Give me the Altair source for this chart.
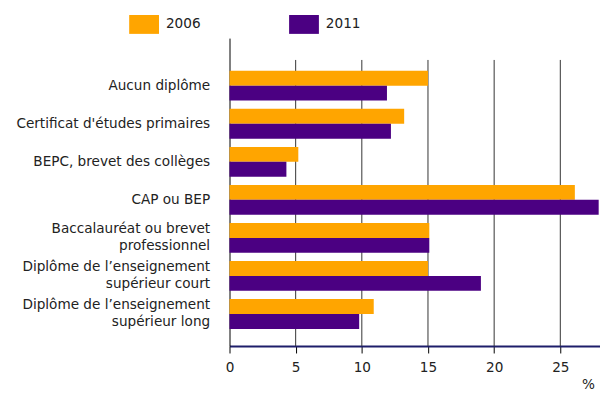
import altair as alt
import pandas as pd

categories = [
    "Aucun diplôme",
    "Certificat d'études primaires",
    "BEPC, brevet des collèges",
    "CAP ou BEP",
    "Baccalauréat ou brevet|professionnel",
    "Diplôme de l’enseignement|supérieur court",
    "Diplôme de l’enseignement|supérieur long",
]
v2006 = [15.0, 13.2, 5.2, 26.1, 15.1, 15.0, 10.9]
v2011 = [11.9, 12.2, 4.3, 27.9, 15.1, 19.0, 9.8]
years = ["2006", "2011"]
grid_ticks = [5, 10, 15, 20, 25]
axis_ticks = [0, 5, 10, 15, 20, 25]

rows = []
for c, a, b in zip(categories, v2006, v2011):
    rows.append({"cat": c, "year": years[0], "value": a})
    rows.append({"cat": c, "year": years[1], "value": b})
df = pd.DataFrame(rows)
grid_df = pd.DataFrame({"t": grid_ticks})

FONT = "DejaVu Sans"
FS = 13.7

xscale = alt.Scale(domain=[0, 28], nice=False)
xaxis = alt.Axis(
    values=axis_ticks,
    grid=False,
    labelFont=FONT,
    labelFontSize=FS,
    labelColor="#222222",
    labelPadding=8,
    labelFlush=False,
    tickSize=7,
    tickColor="#000000",
    domainColor="#1e1e6a",
    domainWidth=2,
)

grid = alt.Chart(grid_df).mark_rule(color="#333333", strokeWidth=1).encode(
    x=alt.X("t:Q", scale=xscale, axis=xaxis, title=None),
    y=alt.value(22),
    y2=alt.value(310),
)

bars = alt.Chart(df).mark_bar(cornerRadius=0).encode(
    y=alt.Y(
        "cat:N",
        sort=categories,
        title=None,
        scale=alt.Scale(paddingInner=0.217, paddingOuter=0.655, align=0.656),
        axis=alt.Axis(
            labelExpr="split(datum.label, '|')",
            labelFont=FONT,
            labelFontSize=FS,
            labelColor="#222222",
            labelLineHeight=17,
            labelPadding=20,
            labelOffset={
                "condition": {"test": "indexof(datum.value, '|') >= 0", "value": -9},
                "value": 0,
            },
            ticks=False,
            domainColor="#000000",
            domainWidth=1,
            labelLimit=300,
        ),
    ),
    yOffset=alt.YOffset("year:N", sort=years),
    x=alt.X("value:Q", scale=xscale, title=None, axis=xaxis),
    color=alt.Color(
        "year:N",
        sort=years,
        scale=alt.Scale(domain=years, range=["#FFA500", "#4B0082"]),
        legend=alt.Legend(
            title=None,
            orient="none",
            direction="horizontal",
            legendX=-101,
            legendY=-29,
            symbolType="M-1,-0.633H1V0.633H-1Z",
            symbolSize=900,
            symbolStrokeWidth=0,
            labelFont=FONT,
            labelFontSize=FS,
            labelColor="#222222",
            labelOffset=7,
            columnPadding=89,
            padding=0,
        ),
    ),
)

pct = alt.Chart(pd.DataFrame({"s": ["%"]})).mark_text(
    align="left", baseline="top", font=FONT, fontSize=FS, color="#222222"
).encode(text="s:N", x=alt.value(355), y=alt.value(342))

chart = alt.layer(grid, bars, pct).properties(
    width=373,
    height=310,
    autosize=alt.AutoSizeParams(type="none"),
    padding={"left": 223, "top": 29, "right": 0, "bottom": 48},
).configure_view(stroke=None)

chart.save("out.html", embed_options={"renderer": "svg", "actions": False})
